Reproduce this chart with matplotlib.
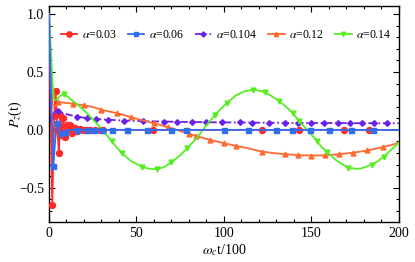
import matplotlib
matplotlib.use("Agg")
import matplotlib.pyplot as plt
from matplotlib.ticker import MultipleLocator, FixedFormatter, FixedLocator

plt.rcParams['font.family'] = ['Liberation Serif', 'DejaVu Serif']
plt.rcParams['mathtext.fontset'] = 'stix'

# --- dados ---
t_003 = [0, 1.9, 3.0, 3.8, 4.8, 5.7, 6.5, 7.3, 8.3, 9.1, 10.2, 11, 12, 13.3, 14.9,
         16.3, 17.7, 19.2, 20.6, 22, 23.4, 26.3, 29.1, 30.9, 59.6, 121.5, 143, 168.6, 183, 200]
p_003 = [1.0, -0.65, 0.12, 0.34, 0.0, -0.2, 0.13, -0.04, 0.1, -0.06, 0.04, 0.015, 0.045, -0.03, 0.02,
         -0.012, 0.008, -0.005, 0.003, 0.0, 0.0, 0.0, 0.0, 0.0, 0.0, 0.0, 0.0, 0.0, 0.0, 0.0]

t_006 = [0, 1.2, 2.5, 3.5, 4.4, 5.5, 6.9, 9, 12, 15.8, 21.5, 26, 30.5, 35.8, 44.4, 55.8, 70, 78.3,
         100, 113.5, 130, 139, 149, 160, 172.4, 185.3, 200]
p_006 = [1.0, 0.3, -0.31, -0.1, 0.057, 0.01, -0.03, -0.015, 0.0, 0.0, 0.0, 0.0, 0.0, 0.0, 0.0, 0.0, 0.0, 0.0,
         0.0, 0.0, 0.0, 0.0, 0.0, 0.0, 0.0, 0.0, 0.0]

t_0104 = [0, 0.5, 1.2, 2, 3, 4, 5.3, 8, 12, 16, 22, 27, 34, 43, 54, 66, 73, 82, 90, 99, 109, 116,
          126, 135, 142.5, 150, 157, 165, 172, 179, 186, 193, 200]
p_0104 = [1.0, 0.6, 0.07, 0.1, 0.15, 0.162, 0.164, 0.145, 0.128, 0.115, 0.1, 0.093, 0.088, 0.08, 0.075,
          0.072, 0.07, 0.068, 0.066, 0.065, 0.064, 0.063, 0.062, 0.061, 0.06, 0.06, 0.059, 0.059, 0.058,
          0.058, 0.058, 0.057, 0.057]

t_012 = [0, 1, 2, 3, 5.3, 8, 13.9, 20, 25, 30, 35, 39, 43, 47, 54, 60, 68, 72, 80, 84, 92, 100, 107,
         114, 121.5, 128, 135, 142.5, 150, 158, 166, 174, 182, 191, 196, 200]
p_012 = [1.0, 0.6, 0.22, 0.2, 0.24, 0.236, 0.226, 0.212, 0.198, 0.174, 0.157, 0.144, 0.127, 0.11, 0.08,
         0.058, 0.023, 0.005, -0.034, -0.052, -0.086, -0.115, -0.138, -0.16, -0.187, -0.2, -0.21, -0.218,
         -0.222, -0.22, -0.21, -0.197, -0.178, -0.148, -0.13, -0.11]

t_014 = [0, 1, 2, 3, 4.5, 6, 8.5, 12, 17, 22, 27, 30, 36, 41.5, 47, 53, 57, 61.5, 66, 70, 75, 79, 85,
         90, 95, 101.5, 107, 112, 116.5, 120, 123.5, 127, 131.5, 135.5, 139.5, 143, 147, 150, 153.3,
         156, 159, 164, 168, 171, 175, 178, 181, 184.5, 188, 191.5, 195, 198.7, 200]
p_014 = [1.0, 0.7, 0.4, 0.26, 0.26, 0.29, 0.31, 0.27, 0.21, 0.14, 0.06, 0.01, -0.1, -0.2, -0.27, -0.318,
         -0.335, -0.34, -0.32, -0.28, -0.22, -0.16, -0.06, 0.04, 0.13, 0.23, 0.3, 0.335, 0.345, 0.34,
         0.325, 0.295, 0.25, 0.2, 0.143, 0.075, 0.01, -0.04, -0.1, -0.15, -0.19, -0.26, -0.3, -0.325,
         -0.335, -0.335, -0.32, -0.3, -0.27, -0.23, -0.18, -0.13, -0.11]

alphas = ["0.03", "0.06", "0.104", "0.12", "0.14"]

# pontos com marcador
mk_003 = list(range(1, 24)) + [24, 25, 26, 27, 28]
mk_006 = [2, 4, 6, 7] + list(range(9, 26))
mk_0104 = [6] + list(range(9, 32))
mk_012 = [4, 6, 7, 9, 11, 13, 15, 16, 18, 19, 20, 21, 22, 24, 26, 27, 28, 29, 30, 31, 32, 33]
mk_014 = [6, 12, 13, 15, 17, 19, 21, 24, 25, 28, 30, 32, 34, 35, 38, 40, 43, 47, 49]

fig = plt.figure(figsize=(4.15, 2.62), dpi=100)
ax = fig.add_axes([0.118, 0.153, 0.843, 0.824])

ax.plot(t_003, p_003, color="#ff2a2a", lw=1.3, marker="o", ms=4.3, markevery=mk_003,
        label=r"$\alpha$=" + alphas[0], zorder=3)
ax.plot(t_006, p_006, color="#2f6ef0", lw=1.3, marker="s", ms=3.6, markevery=mk_006,
        label=r"$\alpha$=" + alphas[1], zorder=4)
ax.plot(t_0104, p_0104, color="#6b22e8", lw=1.3, ls=(0, (4, 1.5, 1, 1.5)), marker="D", ms=2.9,
        markevery=mk_0104, label=r"$\alpha$=" + alphas[2], zorder=3)
ax.plot(t_012, p_012, color="#ff6a2e", lw=1.3, marker="^", ms=3.5, markevery=mk_012,
        label=r"$\alpha$=" + alphas[3], zorder=3)
ax.plot(t_014, p_014, color="#55ee22", lw=1.3, marker="v", ms=3.5, markevery=mk_014,
        label=r"$\alpha$=" + alphas[4], zorder=3)

ax.set_xlim(0, 200)
ax.set_ylim(-0.795, 1.07)
ax.xaxis.set_major_locator(MultipleLocator(50))
ax.xaxis.set_minor_locator(MultipleLocator(10))
ax.yaxis.set_major_locator(FixedLocator([-0.5, 0.0, 0.5, 1.0]))
ax.yaxis.set_major_formatter(FixedFormatter(["\u22120.5", "0.0", "0.5", "1.0"]))
ax.yaxis.set_minor_locator(MultipleLocator(0.1))
ax.tick_params(which="both", direction="in", top=True, right=True, labelsize=10, width=0.8)
ax.tick_params(which="major", length=4)
ax.tick_params(which="minor", length=2)
for s in ax.spines.values():
    s.set_linewidth(1.0)

ax.set_xlabel(r"$\omega_c$t/100", fontsize=10)
ax.set_ylabel(r"$P_z$(t)", fontsize=10)
ax.xaxis.set_label_coords(0.5, -0.095)
ax.yaxis.set_label_coords(-0.07, 0.5)

ax.legend(loc="upper left", bbox_to_anchor=(0.02, 0.915), ncol=5, frameon=False, fontsize=8.5,
          handlelength=1.4, handletextpad=0.4, columnspacing=0.9, borderaxespad=0, markerscale=0.9)

fig.savefig("out.png", dpi=100)
